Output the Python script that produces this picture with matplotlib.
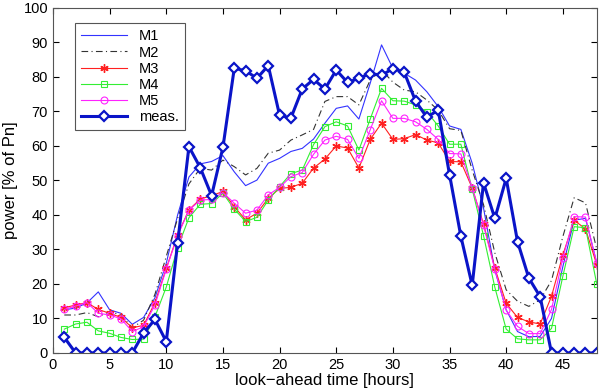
import numpy as np
import matplotlib
matplotlib.use('Agg')
import matplotlib.pyplot as plt

plt.rcParams['font.family'] = ['Liberation Sans', 'DejaVu Sans']

# look-ahead hours
hours = np.arange(1, 49)

m1 = [12.5, 13.0, 14.5, 17.7, 12.5, 11.5, 8.3, 10.3, 16.0, 26.0,
      40.0, 51.0, 54.8, 55.5, 57.2, 52.5, 48.5, 50.1, 55.0, 56.4,
      58.4, 59.3, 62.0, 66.6, 70.9, 71.6, 67.8, 78.2, 89.3, 82.5,
      81.1, 79.1, 75.7, 71.4, 65.8, 64.8, 55.0, 42.0, 24.0, 12.5,
      6.2, 4.7, 4.8, 10.0, 25.0, 38.5, 39.0, 26.0]
m2 = [11.0, 11.0, 11.7, 10.5, 12.0, 11.0, 7.3, 9.5, 17.0, 28.0,
      39.0, 49.0, 53.5, 53.0, 55.9, 54.0, 51.6, 53.5, 57.9, 58.8,
      61.7, 63.2, 64.8, 72.9, 74.3, 74.3, 71.9, 79.1, 82.0, 78.5,
      76.2, 75.7, 73.3, 70.4, 65.0, 64.5, 53.0, 43.0, 29.0, 18.3,
      15.0, 13.5, 15.4, 21.0, 33.7, 45.0, 43.5, 30.0]
m3 = [13.1, 13.9, 14.6, 12.6, 11.5, 10.3, 7.3, 8.0, 14.6, 24.5,
      34.2, 41.5, 44.6, 45.6, 46.8, 42.4, 38.6, 40.5, 44.8, 47.7,
      48.0, 49.2, 53.6, 56.2, 60.0, 59.4, 53.6, 61.9, 66.6, 61.9,
      62.1, 63.3, 61.7, 60.9, 55.5, 55.4, 47.8, 37.4, 24.6, 14.4,
      10.3, 9.0, 8.4, 16.4, 28.4, 38.4, 36.0, 25.5]
m4 = [6.9, 8.4, 8.9, 6.4, 5.7, 4.5, 3.9, 4.0, 10.5, 19.1,
      30.5, 39.2, 43.1, 43.3, 46.3, 41.7, 38.1, 39.3, 44.3, 48.2,
      52.0, 53.0, 60.4, 65.6, 67.0, 65.8, 58.8, 67.8, 76.7, 73.1,
      73.0, 71.9, 69.9, 65.8, 60.5, 60.5, 47.5, 34.0, 19.0, 6.9,
      4.1, 3.8, 3.8, 7.1, 22.2, 36.6, 36.3, 19.9]
m5 = [12.6, 13.6, 14.6, 11.5, 11.0, 9.9, 6.2, 7.6, 13.9, 24.3,
      34.0, 41.4, 44.3, 44.5, 46.5, 43.4, 40.5, 41.4, 45.8, 48.0,
      51.1, 52.3, 57.6, 61.7, 62.8, 61.9, 56.4, 64.7, 73.1, 68.0,
      68.0, 67.0, 64.8, 61.9, 57.8, 57.7, 47.9, 37.0, 24.2, 12.4,
      7.7, 5.6, 5.6, 12.6, 27.5, 39.5, 39.4, 26.0]
meas = [4.5, 0, 0, 0, 0, 0, 0, 5.8, 9.7, 3.3,
        31.8, 59.8, 53.7, 45.6, 59.6, 82.5, 81.8, 79.6, 83.3, 68.9,
        68.1, 76.5, 79.3, 76.5, 82.0, 78.4, 79.6, 81.0, 80.5, 82.4,
        81.4, 73.0, 68.3, 70.4, 51.7, 33.8, 19.6, 49.3, 39.0, 50.6,
        32.3, 21.7, 16.3, 0, 0, 0, 0, 0]

fig = plt.figure(figsize=(6.02, 3.9), dpi=100)
ax = fig.add_axes([0.088, 0.095, 0.9034, 0.8846])

ax.plot(hours, m1, color='#3333ff', lw=0.8, label='M1')
ax.plot(hours, m2, color='#333333', lw=0.8, ls=(0, (6, 3, 1, 3)), label='M2')
ax.plot(hours, m3, color='#ff2020', lw=0.8, marker=(6, 2, 0), ms=6, mew=1.0, label='M3')
ax.plot(hours, m4, color='#33ee33', lw=0.8, marker='s', ms=4, mfc='none', mew=0.8, label='M4')
ax.plot(hours, m5, color='#ff22ff', lw=0.8, marker='o', ms=5, mfc='none', mew=0.8, label='M5')
ax.plot(hours, meas, color='#0a14c8', lw=2.2, marker='D', ms=5.5, mfc='white', mew=1.6, label='meas.')

ax.set_xlim(0, 48)
ax.set_ylim(0, 100)
ax.set_xticks(np.arange(0, 46, 5))
ax.set_yticks(np.arange(0, 101, 10))
ax.tick_params(direction='in', top=True, right=True, labelsize=10.5, length=4)
for s in ax.spines.values():
    s.set_color('#555555')

ax.set_xlabel('look\u2212ahead time [hours]', fontsize=12, labelpad=1)
ax.set_ylabel('power [% of Pn]', fontsize=12, labelpad=4)

leg = ax.legend(loc='upper left', bbox_to_anchor=(0.04, 0.955), borderaxespad=0,
                fontsize=10.5, handlelength=3.2, borderpad=0.4, labelspacing=0.15,
                fancybox=False, framealpha=1, edgecolor='#555555')
leg.get_frame().set_linewidth(0.8)

plt.savefig('out.png', dpi=100)
